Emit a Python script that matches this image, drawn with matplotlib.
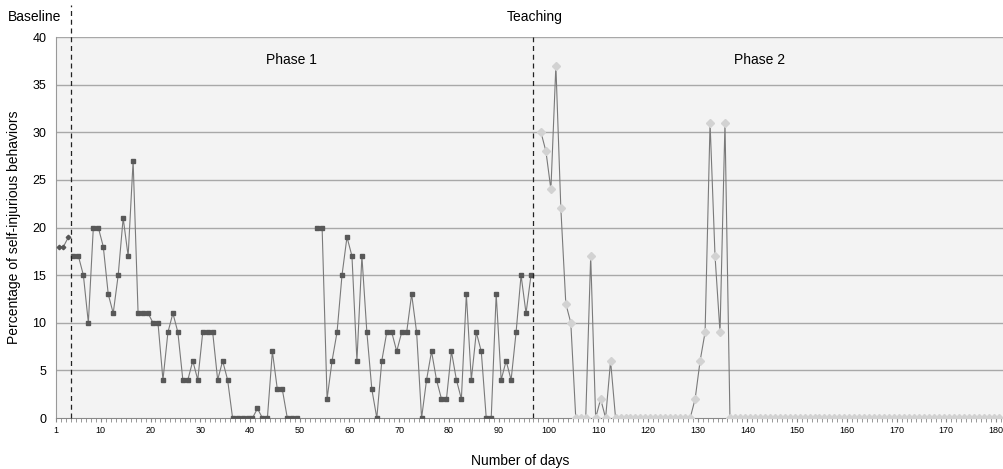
import numpy as np
import matplotlib
matplotlib.use('Agg')
import matplotlib.pyplot as plt

plt.rcParams['font.family'] = ['Liberation Sans', 'DejaVu Sans']

# Baseline (days 1-3)
baseline_days = [1, 2, 3]
baseline_vals = [18, 18, 19]

# Phase 1 (days 4-96), days 50-52 missing
phase1_days = list(range(4, 97))
phase1_vals = [17, 17, 15, 10, 20, 20, 18, 13, 11, 15, 21, 17, 27,
               11, 11, 11, 10, 10, 4, 9, 11, 9, 4, 4, 6, 4, 9, 9, 9,
               4, 6, 4, 0, 0, 0, 0, 0, 1, 0, 0, 7, 3, 3, 0, 0, 0,
               np.nan, np.nan, np.nan,
               20, 20, 2, 6, 9, 15, 19, 17, 6, 17, 9, 3, 0, 6, 9, 9,
               7, 9, 9, 13, 9, 0, 4, 7, 4, 2, 2, 7, 4, 2, 13, 4, 9,
               7, 0, 0, 13, 4, 6, 4, 9, 15, 11, 15]

# Phase 2 (days 98-190)
phase2_days = list(range(98, 191))
phase2_vals = [30, 28, 24, 37, 22, 12, 10, 0, 0, 0, 17, 0, 2, 0, 6,
               0, 0, 0, 0, 0, 0, 0, 0, 0, 0, 0, 0, 0, 0, 0, 0,
               2, 6, 9, 31, 17, 9, 31,
               0, 0, 0, 0, 0, 0, 0, 0, 0, 0, 0, 0, 0, 0, 0, 0, 0, 0,
               0, 0, 0, 0, 0, 0, 0, 0, 0, 0, 0, 0, 0, 0, 0, 0, 0, 0,
               0, 0, 0, 0, 0, 0, 0, 0, 0, 0, 0, 0, 0, 0, 0, 0, 0, 0,
               0]

tick_days = [1, 10, 20, 30, 40, 50, 60, 70, 80, 90, 100, 110, 120, 130,
             140, 150, 160, 170, 180, 190]
tick_labels = ['1', '10', '20', '30', '40', '50', '60', '70', '80', '90',
               '100', '110', '120', '130', '140', '150', '160', '170',
               '170', '180']

fig = plt.figure(figsize=(10.04, 4.69), dpi=100)
ax = fig.add_axes([0.0558, 0.1087, 0.9442, 0.8124])
ax.set_facecolor('#f3f3f3')

for y in range(5, 45, 5):
    ax.axhline(y, color='#a8a8a8', lw=1.0, zorder=1)

line_col = '#7a7a7a'
ax.plot(baseline_days, baseline_vals, color=line_col, lw=0.8, marker='D',
        ms=2.3, mfc='#555555', mec='#555555', zorder=3)
ax.plot(phase1_days, phase1_vals, color=line_col, lw=0.8, marker='s',
        ms=3.5, mfc='#585858', mec='#585858', zorder=3)
ax.plot(phase2_days, phase2_vals, color=line_col, lw=0.8, marker='D',
        ms=4.0, mfc='#d2d2d2', mec='#d2d2d2', zorder=3)

# phase change lines
ax.plot([3.5, 3.5], [0, 43.4], color='#222222', lw=0.9, ls=(0, (4, 3)),
        clip_on=False, zorder=4)
ax.plot([96.5, 96.5], [0, 40], color='#222222', lw=0.9, ls=(0, (4, 3)),
        zorder=4)

ax.set_xlim(0.5, 191.1)
ax.set_ylim(0, 40)
ax.set_yticks(range(0, 45, 5))
ax.tick_params(axis='y', length=0, labelsize=9, pad=7)
ax.set_xticks([d - 0.5 for d in tick_days])
ax.set_xticklabels(tick_labels)
ax.set_xticks(np.arange(0.5, 191, 1), minor=True)
ax.tick_params(axis='x', which='major', length=3, color='#888888',
               labelsize=6.5, pad=3)
ax.tick_params(axis='x', which='minor', length=3, color='#888888')

for s in ['top', 'right']:
    ax.spines[s].set_visible(False)
ax.spines['left'].set_color('#999999')
ax.spines['bottom'].set_color('#888888')

ax.text(47.8, 37.6, 'Phase 1', ha='center', va='center', fontsize=10)
ax.text(142, 37.6, 'Phase 2', ha='center', va='center', fontsize=10)
fig.text(0.034, 0.963, 'Baseline', ha='center', va='center', fontsize=10)
fig.text(0.533, 0.963, 'Teaching', ha='center', va='center', fontsize=10)
fig.text(0.014, 0.515, 'Percentage of self-injurious behaviors',
         rotation=90, ha='center', va='center', fontsize=10)
fig.text(0.518, 0.017, 'Number of days', ha='center', va='center',
         fontsize=10)

fig.savefig('out.png', dpi=100, facecolor='white')
